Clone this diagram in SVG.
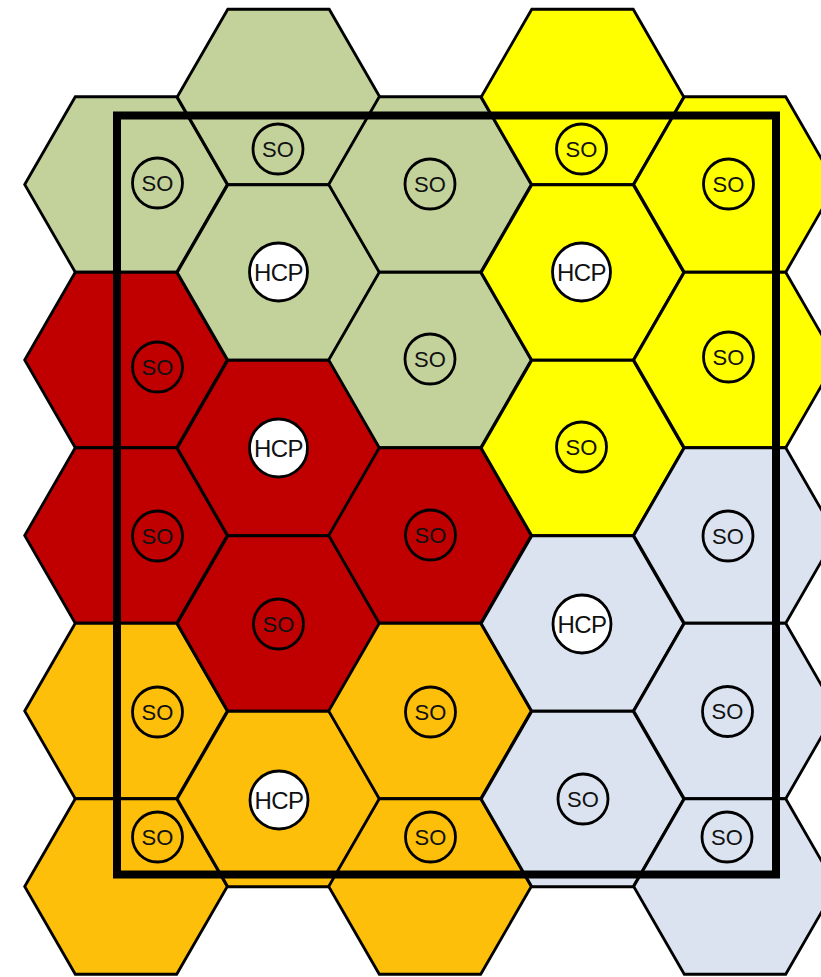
<svg xmlns="http://www.w3.org/2000/svg" width="821" height="977" viewBox="0 0 821 977">
<style>
.hex{stroke:#000;stroke-width:2.8;stroke-linejoin:miter}
.g{fill:#c3d29b}.r{fill:#c00000}.y{fill:#ffff00}.o{fill:#fdbf0a}.b{fill:#dae3ef}
.so{stroke:#000;stroke-width:2.8}
.hcp{fill:#fff;stroke:#000;stroke-width:2.8}
.t{font-family:"Liberation Sans",Arial,sans-serif;fill:#111;text-anchor:middle;dominant-baseline:central}
.ts{font-size:22px}.th{font-size:24px;letter-spacing:-0.5px}
.frame{fill:none;stroke:#000;stroke-width:8}
</style>
<defs>
<polygon id="hx" points="-101.3,0 -50.7,-87.75 50.7,-87.75 101.3,0 50.7,87.75 -50.7,87.75"/>
</defs>
<g id="cells">
<!-- column 0 -->
<g id="c0r0"><use href="#hx" x="126" y="184.5" class="hex g"/><circle cx="157.5" cy="183" r="25" class="so g"/><text x="157.5" y="183" class="t ts">SO</text></g>
<g id="c0r1"><use href="#hx" x="126" y="360" class="hex r"/><circle cx="157.5" cy="367" r="25" class="so r"/><text x="157.5" y="367" class="t ts">SO</text></g>
<g id="c0r2"><use href="#hx" x="126" y="535.5" class="hex r"/><circle cx="157.5" cy="536" r="25" class="so r"/><text x="157.5" y="536" class="t ts">SO</text></g>
<g id="c0r3"><use href="#hx" x="126" y="711" class="hex o"/><circle cx="157.5" cy="712" r="25" class="so o"/><text x="157.5" y="712" class="t ts">SO</text></g>
<g id="c0r4"><use href="#hx" x="126" y="886.5" class="hex o"/><circle cx="157.5" cy="837" r="25" class="so o"/><text x="157.5" y="837" class="t ts">SO</text></g>
<!-- column 1 -->
<g id="c1r0"><use href="#hx" x="278.5" y="97" class="hex g"/><circle cx="278" cy="149" r="25" class="so g"/><text x="278" y="149" class="t ts">SO</text></g>
<g id="c1r1"><use href="#hx" x="278.5" y="272.5" class="hex g"/><circle cx="278.5" cy="272" r="29" class="hcp"/><text x="278.5" y="272" class="t th">HCP</text></g>
<g id="c1r2"><use href="#hx" x="278.5" y="448" class="hex r"/><circle cx="278.5" cy="448" r="29" class="hcp"/><text x="278.5" y="448" class="t th">HCP</text></g>
<g id="c1r3"><use href="#hx" x="278.5" y="623.5" class="hex r"/><circle cx="278.5" cy="624" r="25" class="so r"/><text x="278.5" y="624" class="t ts">SO</text></g>
<g id="c1r4"><use href="#hx" x="278.5" y="799" class="hex o"/><circle cx="279" cy="800" r="29" class="hcp"/><text x="279" y="800" class="t th">HCP</text></g>
<!-- column 2 -->
<g id="c2r0"><use href="#hx" x="430" y="184.5" class="hex g"/><circle cx="430" cy="184" r="25" class="so g"/><text x="430" y="184" class="t ts">SO</text></g>
<g id="c2r1"><use href="#hx" x="430" y="360" class="hex g"/><circle cx="430" cy="359" r="25" class="so g"/><text x="430" y="359" class="t ts">SO</text></g>
<g id="c2r2"><use href="#hx" x="430" y="535.5" class="hex r"/><circle cx="430.5" cy="535" r="25" class="so r"/><text x="430.5" y="535" class="t ts">SO</text></g>
<g id="c2r3"><use href="#hx" x="430" y="711" class="hex o"/><circle cx="430.5" cy="712" r="25" class="so o"/><text x="430.5" y="712" class="t ts">SO</text></g>
<g id="c2r4"><use href="#hx" x="430" y="886.5" class="hex o"/><circle cx="430.5" cy="837" r="25" class="so o"/><text x="430.5" y="837" class="t ts">SO</text></g>
<!-- column 3 -->
<g id="c3r0"><use href="#hx" x="582.5" y="97" class="hex y"/><circle cx="581.5" cy="149" r="25" class="so y"/><text x="581.5" y="149" class="t ts">SO</text></g>
<g id="c3r1"><use href="#hx" x="582.5" y="272.5" class="hex y"/><circle cx="581.5" cy="272" r="29" class="hcp"/><text x="581.5" y="272" class="t th">HCP</text></g>
<g id="c3r2"><use href="#hx" x="582.5" y="448" class="hex y"/><circle cx="581.5" cy="447" r="25" class="so y"/><text x="581.5" y="447" class="t ts">SO</text></g>
<g id="c3r3"><use href="#hx" x="582.5" y="623.5" class="hex b"/><circle cx="582" cy="624" r="29" class="hcp"/><text x="582" y="624" class="t th">HCP</text></g>
<g id="c3r4"><use href="#hx" x="582.5" y="799" class="hex b"/><circle cx="583" cy="799" r="25" class="so b"/><text x="583" y="799" class="t ts">SO</text></g>
<!-- column 4 -->
<g id="c4r0"><use href="#hx" x="735" y="184.5" class="hex y"/><circle cx="728.5" cy="184" r="25" class="so y"/><text x="728.5" y="184" class="t ts">SO</text></g>
<g id="c4r1"><use href="#hx" x="735" y="360" class="hex y"/><circle cx="728.5" cy="357" r="25" class="so y"/><text x="728.5" y="357" class="t ts">SO</text></g>
<g id="c4r2"><use href="#hx" x="735" y="535.5" class="hex b"/><circle cx="728" cy="536" r="25" class="so b"/><text x="728" y="536" class="t ts">SO</text></g>
<g id="c4r3"><use href="#hx" x="735" y="711" class="hex b"/><circle cx="727.5" cy="711.5" r="25" class="so b"/><text x="727.5" y="711.5" class="t ts">SO</text></g>
<g id="c4r4"><use href="#hx" x="735" y="886.5" class="hex b"/><circle cx="727" cy="837" r="25" class="so b"/><text x="727" y="837" class="t ts">SO</text></g>
</g>
<g id="connectors"></g>
<g id="boundary"><rect x="117" y="115.5" width="659" height="759" class="frame"/></g>
</svg>
